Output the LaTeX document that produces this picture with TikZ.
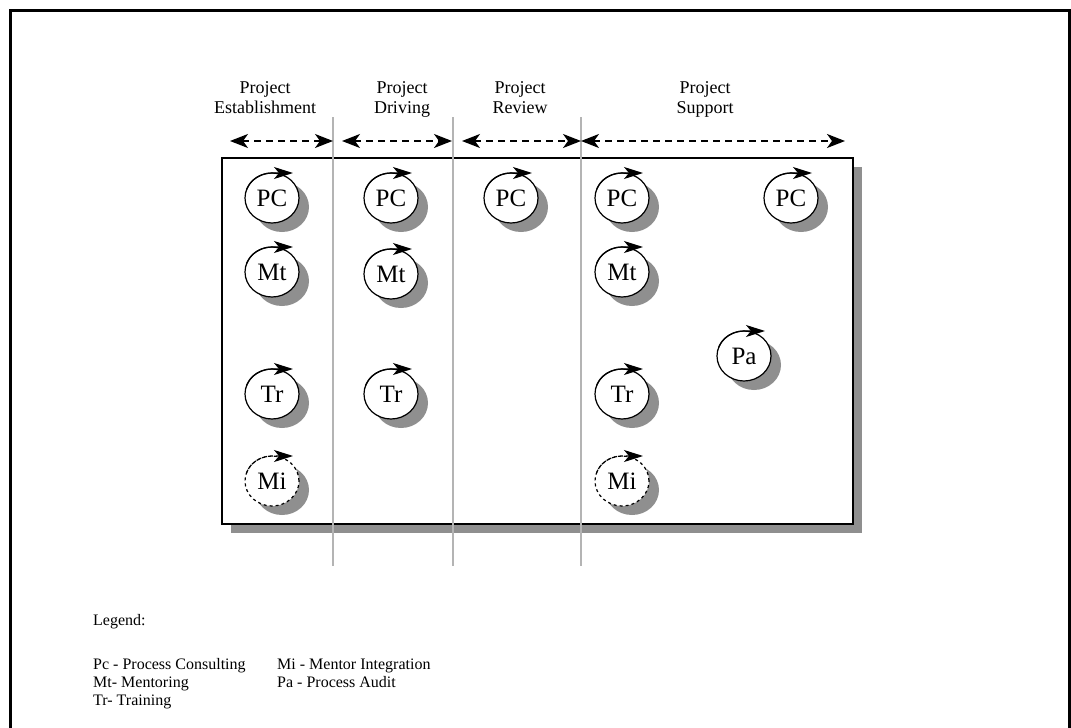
\documentclass[tikz,border=0pt]{standalone}
\usepackage{fontspec}
\setmainfont{Liberation Serif}
\usetikzlibrary{arrows.meta,shapes.geometric,shadows}
\definecolor{shadowgray}{HTML}{8F8F8F}
\definecolor{divider}{HTML}{B4B4B4}

% one activity: a shadowed ellipse with a cycle arrow over its top
\newcommand\placeact[5][]{%
  \node[activity,#1] (#2) at (#3,#4) {#5};
  \draw[cyclearrow,#1] (#2.center) ++(160:27pt and 25pt)
    arc[start angle=160,end angle=90,x radius=27pt,y radius=25pt] -- ++(21pt,0);
}

\begin{document}
\begin{tikzpicture}[x=1pt,y=1pt,
  activity/.style={ellipse, draw, line width=1.2pt, fill=white,
    minimum width=54pt, minimum height=50pt, inner sep=0pt,
    font=\fontsize{25}{30}\selectfont,
    drop shadow={shadow xshift=10pt, shadow yshift=-9pt, fill=shadowgray, opacity=1}},
  cyclearrow/.style={line width=1.2pt, -{Stealth[length=19pt,width=12pt,inset=5pt]}},
  phasearrow/.style={line width=1.6pt, dash pattern=on 7pt off 5pt,
    {Stealth[length=18pt,width=14pt,inset=5pt]}-{Stealth[length=18pt,width=14pt,inset=5pt]}},
  header/.style={anchor=base, inner sep=0pt, font=\fontsize{18}{20}\selectfont},
  legendtext/.style={anchor=base west, inner sep=0pt, font=\fontsize{16}{18}\selectfont},
  divline/.style={draw=divider, line width=2pt}
]
\path[use as bounding box, clip] (0,0) rectangle (1071,-728);

% page frame (open at the bottom edge)
\draw[line width=3pt] (10.5,-760) -- (10.5,-10.5) -- (1069.5,-10.5) -- (1069.5,-760);

% board with its shadow
\node[draw, fill=white, line width=1.2pt, minimum width=631pt, minimum height=366pt,
  inner sep=0pt, drop shadow={shadow xshift=9pt, shadow yshift=-9pt, fill=shadowgray, opacity=1}]
  (board) at (537.5,-341) {};

% phase dividers
\coordinate (d1t) at (333,-117); \coordinate (d1b) at (333,-566);
\coordinate (d2t) at (453,-117); \coordinate (d2b) at (453,-566);
\coordinate (d3t) at (581,-117); \coordinate (d3b) at (581,-566);
\draw[divline] (d1t) -- (d1b);
\draw[divline] (d2t) -- (d2b);
\draw[divline] (d3t) -- (d3b);

% phase headers
\node[header] (h1a) at (265,-93) {Project};
\node[header] (h1b) at (265,-113) {Establishment};
\node[header] (h2a) at (402,-93) {Project};
\node[header] (h2b) at (402,-113) {Driving};
\node[header] (h3a) at (520,-93) {Project};
\node[header] (h3b) at (520,-113) {Review};
\node[header] (h4a) at (705,-93) {Project};
\node[header] (h4b) at (705,-113) {Support};

% phase spans
\coordinate (p1l) at (230,-141); \coordinate (p1r) at (333,-141);
\coordinate (p2l) at (342,-141); \coordinate (p2r) at (452,-141);
\coordinate (p3l) at (462,-141); \coordinate (p3r) at (581,-141);
\coordinate (p4l) at (581,-141); \coordinate (p4r) at (845,-141);
\draw[phasearrow] (p1l) -- (p1r);
\draw[phasearrow] (p2l) -- (p2r);
\draw[phasearrow] (p3l) -- (p3r);
\draw[phasearrow] (p4l) -- (p4r);

% activities
\placeact{pc1}{272}{-198}{PC}
\placeact{mt1}{272}{-272}{Mt}
\placeact{tr1}{272}{-394}{Tr}
\placeact[dashed]{mi1}{272}{-481}{Mi}

\placeact{pc2}{391}{-198}{PC}
\placeact{mt2}{391}{-274}{Mt}
\placeact{tr2}{391}{-394}{Tr}

\placeact{pc3}{511}{-198}{PC}

\placeact{pc4}{622}{-198}{PC}
\placeact{mt4}{622}{-272}{Mt}
\placeact{tr4}{622}{-394}{Tr}
\placeact[dashed]{mi4}{622}{-481}{Mi}

\placeact{pc5}{791}{-198}{PC}
\placeact{pa5}{744}{-356}{Pa}

% legend
\node[legendtext] (lg)  at (93,-625) {Legend:};
\node[legendtext] (lg1) at (93,-669) {Pc - Process Consulting};
\node[legendtext] (lg2) at (93,-687) {Mt- Mentoring};
\node[legendtext] (lg3) at (93,-705) {Tr- Training};
\node[legendtext] (lg4) at (277,-669) {Mi - Mentor Integration};
\node[legendtext] (lg5) at (277,-687) {Pa - Process Audit};
\end{tikzpicture}
\end{document}
